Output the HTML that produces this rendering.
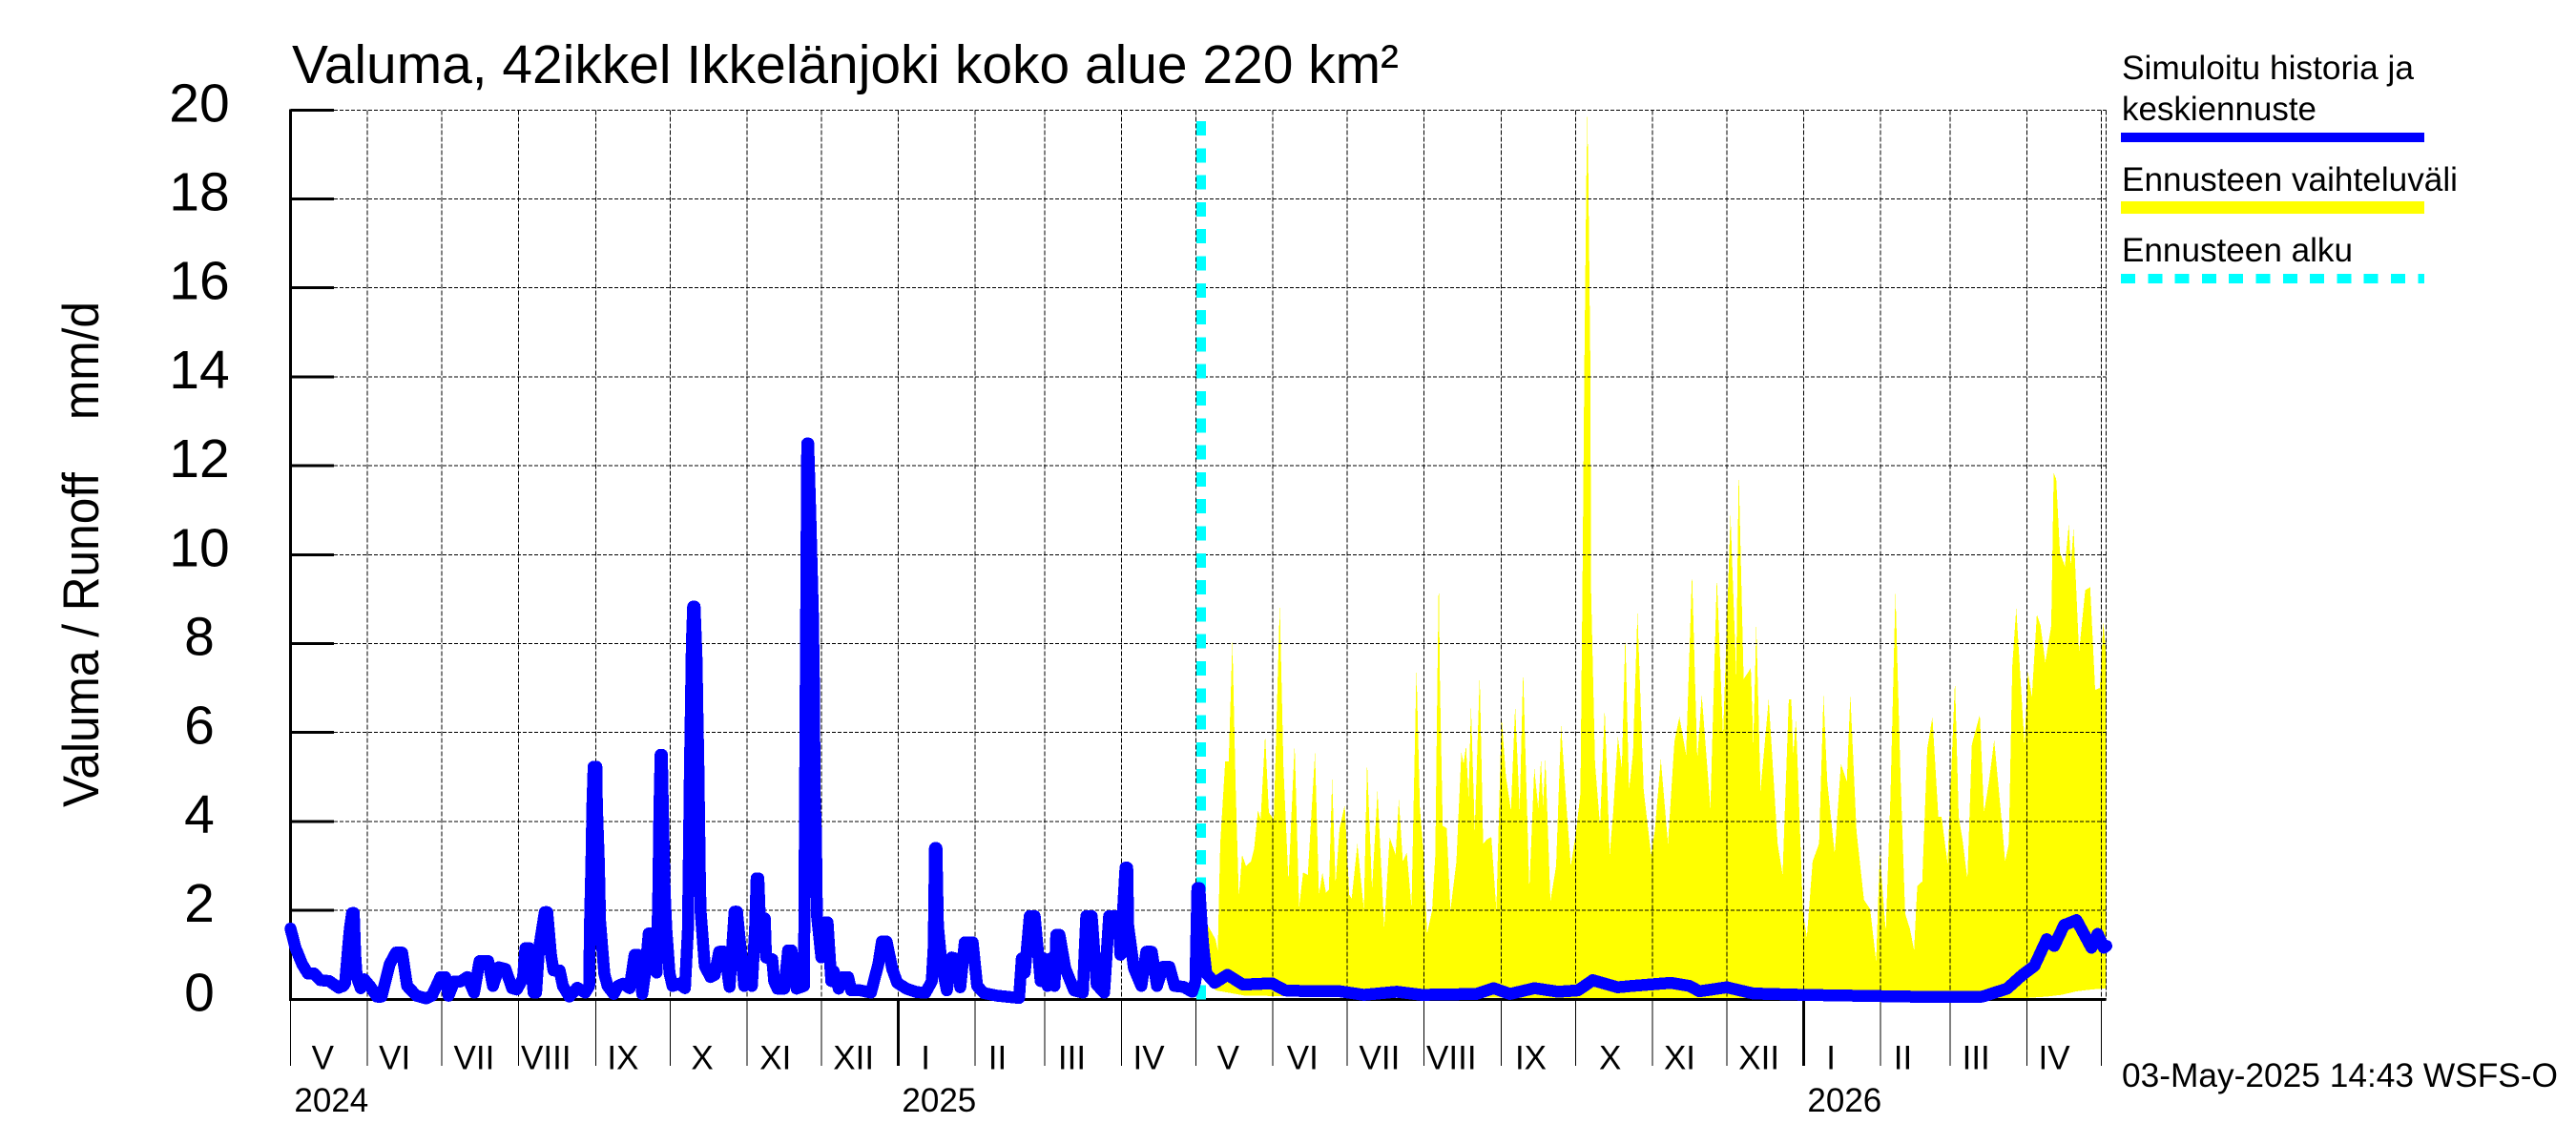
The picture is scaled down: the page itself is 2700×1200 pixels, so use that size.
<!DOCTYPE html>
<html lang="fi">
<head>
<meta charset="utf-8">
<title>Valuma, 42ikkel Ikkelänjoki koko alue 220 km²</title>
<style>
  html, body { margin: 0; padding: 0; background: #fff; }
  svg { display: block; }
  text { font-family: "Liberation Sans", sans-serif; fill: #000; }
</style>
</head>
<body>
<svg id="chart" xmlns="http://www.w3.org/2000/svg" width="2700" height="1200" viewBox="0 0 2700 1200">
  <rect x="0" y="0" width="2700" height="1200" fill="#ffffff"/>
  <text x="306" y="87" font-size="57" textLength="1160" lengthAdjust="spacingAndGlyphs">Valuma, 42ikkel Ikkelänjoki koko alue 220 km²</text>
  <text transform="translate(103 846) rotate(-90)" x="0" y="0" font-size="53" xml:space="preserve" textLength="530" lengthAdjust="spacingAndGlyphs">Valuma / Runoff    mm/d</text>

  <g id="band-layer"></g>
  <g id="grid-layer"></g>
  <g id="axis-layer"></g>
  <g id="start-layer"></g>
  <g id="line-layer"></g>

  <g>
    <text x="2224" y="83" font-size="35" textLength="306" lengthAdjust="spacingAndGlyphs">Simuloitu historia ja</text>
    <text x="2224" y="126" font-size="35" textLength="204" lengthAdjust="spacingAndGlyphs">keskiennuste</text>
    <rect x="2223" y="139" width="318" height="10" fill="#0000ff"/>
    <text x="2224" y="200" font-size="35" textLength="352" lengthAdjust="spacingAndGlyphs">Ennusteen vaihteluväli</text>
    <rect x="2223" y="211" width="318" height="13" fill="#ffff00"/>
    <text x="2224" y="274" font-size="35" textLength="242" lengthAdjust="spacingAndGlyphs">Ennusteen alku</text>
    <line x1="2223" y1="292" x2="2541" y2="292" stroke="#00ffff" stroke-width="10" stroke-dasharray="15 13.3" shape-rendering="crispEdges"/>
  </g>
  <text x="2224" y="1139" font-size="35" textLength="457" lengthAdjust="spacingAndGlyphs">03-May-2025 14:43 WSFS-O</text>
</svg>
<script>
// ---- Axis categories and labels ----
const yTicks = [0, 2, 4, 6, 8, 10, 12, 14, 16, 18, 20];
const monthStartDays = [0, 31, 61, 92, 123, 153, 184, 214, 245, 276, 304, 335, 365, 396, 426, 457, 488, 518, 549, 579, 610, 641, 669, 700, 730];
const yearStartDays = [245, 610];
const monthLabels = ['V', 'VI', 'VII', 'VIII', 'IX', 'X', 'XI', 'XII', 'I', 'II', 'III', 'IV', 'V', 'VI', 'VII', 'VIII', 'IX', 'X', 'XI', 'XII', 'I', 'II', 'III', 'IV'];
const monthLabelDays = [13, 42, 74, 103, 134, 166, 195.5, 227, 256, 285, 315, 346, 378, 408, 439, 468, 500, 532, 560, 592, 621, 650, 679.5, 711];
const yearLabels = ['2024', '2025', '2026'];
const yearLabelDays = [1.5, 246.5, 611.5];
const forecastStartDay = 367;
const frameEndDay = 732;

// ---- Simulated history + mean forecast (days since 1 May 2024, mm/d) ----
const runoffDays = [
  0, 2, 4.7, 7, 9.5, 12, 15.6, 19.4, 21.3, 22,
  23.3, 23.9, 24.8, 25.5, 26.1, 26.7, 28.3, 29.7, 32, 34.8,
  36.7, 40, 42.5, 45, 47, 50.8, 54.7, 57, 60.5, 62.4,
  63.7, 66, 68.5, 71.3, 74, 76.2, 79.7, 81.6, 84, 86.7,
  89.3, 91.2, 93.7, 94.7, 96.3, 98, 99, 100.2, 102.5, 103.5,
  105, 106, 108.5, 109.8, 112.4, 115.6, 118.8, 120.4, 120.7, 121.3,
  121.7, 122.2, 123.3, 123.5, 124.3, 124.8, 126.5, 127.8, 130.3, 132,
  134, 136.7, 138.7, 140, 141.8, 143, 144.4, 146, 147.6, 148.3,
  148.7, 149.2, 149.7, 150, 150.8, 151.5, 152.8, 154, 156.6, 159,
  160.2, 160.6, 161, 161.4, 161.8, 162.3, 162.9, 163.7, 164, 164.4,
  164.7, 165, 165.3, 167, 169.3, 171, 172.8, 175, 177, 179,
  180, 182.9, 185, 186, 187.3, 187.9, 188.6, 189.2, 191.2, 191.7,
  194.2, 195, 196.3, 199, 200.6, 202, 204, 207, 207.2, 207.7,
  208.3, 208.7, 209.6, 210.6, 211, 211.3, 211.8, 212.2, 214, 215.5,
  216.5, 218, 219, 221, 222.7, 224.8, 226, 229.8, 234, 237,
  238.4, 240.3, 242.6, 244.6, 248.3, 252.5, 256, 258.5, 259.3, 259.8,
  260.4, 261, 262.5, 264.6, 266.5, 269.3, 270, 271.8, 275, 276.8,
  279.5, 285, 293.7, 294.8, 296, 298, 300, 302.4, 303.7, 305.2,
  306.6, 308, 308.7, 310, 312.3, 315.9, 319.4, 320.8, 323, 325,
  328, 330, 333.7, 334.6, 336.6, 337.3, 337.7, 340, 343, 345,
  347.2, 349.3, 351.7, 354.3, 356.4, 360, 363.5, 364.8, 365.6, 366.4,
  367.4, 368, 369.2, 372.6, 377.7, 384, 395.6, 401, 411, 423,
  432.7, 446, 456, 478, 485, 491.6, 501.5, 511, 519, 525,
  535, 540.7, 556.4, 564, 568, 579, 589.7, 609.4, 653, 682,
  692, 698, 703, 708, 711, 715, 720, 726, 728.5, 731,
  732
];
const runoffValues = [
  1.59, 1.16, .79, .58, .58, .43, .41, .26, .3, .36,
  1.22, 1.58, 1.94, 1.94, .99, .5, .25, .45, .3, .06,
  .06, .79, 1.05, 1.05, .3, .08, .02, .08, .5, .5,
  .08, .4, .4, .5, .15, .86, .86, .3, .72, .68,
  .25, .22, .47, 1.15, 1.15, .15, .15, 1.15, 1.96, 1.96,
  1, .65, .65, .3, .06, .26, .15, .3, 1.65, 3.07,
  4.37, 5.23, 5.23, 4.37, 3.07, 1.76, .58, .3, .12, .3,
  .35, .25, 1, 1, .12, .6, 1.48, 1.48, .6, 2.47,
  4.2, 5.5, 5.5, 4.6, 2.47, 1.58, .58, .3, .35, .25,
  1.55, 3.22, 5.1, 6.55, 8.03, 8.83, 8.83, 7.64, 6.55, 5.36,
  4.1, 2.87, 2, .75, .5, .55, 1.07, 1.07, .28, 1.97,
  1.97, .3, .5, .3, 1.62, 2.72, 2.72, 1.82, 1.82, .94,
  .9, .4, .24, .24, 1.1, 1.1, .24, .3, 2.3, 7.1,
  12.5, 12.5, 10.8, 8.65, 7.1, 4.6, 3.75, 1.9, .94, 1.73,
  1.73, .41, .63, .24, .5, .5, .2, .2, .15, .8,
  1.3, 1.3, .68, .37, .24, .16, .15, .4, 1.2, 3.4,
  3.4, 1.65, .77, .2, .94, .9, .27, 1.28, 1.28, .3,
  .14, .08, .03, .92, .6, 1.87, 1.87, .41, .92, .3,
  .92, .3, 1.45, 1.45, .7, .2, .15, 1.87, 1.87, .33,
  .15, 1.87, 1.87, 1, 2.96, 2.96, 1.65, .7, .3, 1.07,
  1.07, .3, .73, .73, .3, .28, .17, .4, 2.5, 2.5,
  1.59, 1.16, .58, .37, .55, .33, .36, .2, .18, .18,
  .1, .17, .1, .12, .25, .12, .25, .17, .2, .43,
  .27, .3, .37, .3, .18, .27, .13, .1, .06, .06,
  .24, .54, .75, 1.35, 1.2, 1.67, 1.78, 1.16, 1.47, 1.16,
  1.2
];

// ---- Forecast range: upper edge ----
const upperDays = [
  367, 368.9, 372.9, 373.8, 374.8, 376.8, 378.2, 379.7, 381.1, 382.3,
  383.6, 385.2, 387.2, 388.5, 390, 391.1, 392.9, 394.4, 396.4, 398.8,
  400.3, 402.3, 404.8, 406.6, 408.2, 410.1, 413, 414.6, 416, 417.4,
  418.6, 419.9, 421.3, 422.9, 425, 426.8, 427.8, 430.1, 432.7, 434,
  436, 438.2, 440.9, 443.1, 445.5, 446.8, 448.4, 450, 451.9, 453.9,
  455.3, 456.6, 458.2, 460.2, 461.5, 462.3, 462.9, 463.4, 464.5, 466.1, 467.6, 470,
  472, 472.9, 473.9, 474.9, 475.9, 477.4, 479.4, 480.8, 482.4, 484.1,
  486.1, 488.2, 490, 492, 493.7, 495.5, 496.9, 499.4, 501.4, 503,
  504.1, 504.9, 505.9, 507.9, 510.2, 512.2, 514.1, 516.1, 518.1, 520,
  520.8, 521.6, 522.4, 522.8, 523.2, 524, 524.3, 525.9, 527.9, 529.8, 531.8, 533.2, 535.1,
  536.7, 538.1, 539.6, 541.2, 543, 545.5, 548.5, 550, 552.4, 555.3,
  557.9, 559.9, 562.6, 565, 567.1, 568.9, 572.4, 575, 577.5, 580.5,
  582.8, 583.8, 585.8, 588.7, 589.7, 590.9, 592.6, 595.9, 599.5, 601.5,
  604, 605, 605.8, 606.9, 609.7, 611.3, 613.6, 616.2, 618, 619.5,
  622.5, 625, 627.4, 628.8, 631.3, 634.3, 636.8, 639.2, 640.7, 643.1,
  645, 647, 649, 650.9, 652.9, 654.5, 655.8, 657.8, 659.8, 661.9,
  664.3, 665.6, 668, 671, 672.5, 674.1, 676, 677.8, 681, 682.7,
  684.7, 686.8, 690.2, 691.2, 692.7, 694.1, 695.7, 699, 700.4, 702,
  704, 705.5, 707.4, 709.8, 710.8, 711.8, 713.3, 715.3, 716.9, 717.7,
  718.8, 721, 723.5, 725.5, 727.5, 729.4, 730.8, 732
];
const upperValues = [
  2.4, 1.75, 1.35, 1.1, 3.5, 5.35, 5.35, 8.05, 4.6, 2.3,
  3.25, 3, 3.1, 3.4, 4.25, 4.05, 5.95, 4.2, 4.05, 8.9,
  5.2, 2.65, 5.75, 2.07, 2.85, 2.8, 5.55, 2.35, 2.85, 2.4,
  2.47, 4.95, 2.6, 3.85, 4.37, 2.35, 2.27, 3.5, 2, 5.35,
  2.47, 4.7, 1.6, 3.65, 3.25, 4.5, 3.1, 3.3, 2.07, 7.45,
  4.3, 3.4, 1.48, 2, 3.25, 7, 9.55, 7, 3.9, 3.85, 2, 3.1,
  5.55, 5.3, 5.7, 4.55, 6.6, 3.8, 7.3, 3.5, 3.6, 3.65,
  2, 6.35, 5, 4.25, 6.6, 4.25, 7.4, 2.47, 5.2, 4.3,
  5.4, 4.37, 5.4, 2.2, 3, 6.15, 4.57, 3, 3.7, 4.63,
  9.2, 14.3, 18.5, 19.87, 18.5, 14.3, 9.2, 5.3, 3.9, 6.55, 3.25, 4.2, 5.9,
  5.2, 8.2, 4.7, 5.55, 8.7, 4.7, 3.25, 3.8, 5.4, 3.5,
  5.8, 6.35, 5.5, 9.6, 5.4, 6.85, 4.3, 9.5, 5.9, 10.9,
  7.3, 11.9, 7.2, 7.45, 5.75, 8.45, 4.7, 6.75, 3.5, 2.8,
  6.75, 6.75, 5.5, 6.3, 1.95, 1.4, 3.1, 3.5, 6.85, 4.9,
  3.27, 5.3, 4.9, 6.86, 3.78, 2.24, 2.03, .85, 3.27, 1.52,
  4.6, 9.17, 5.1, 1.93, 1.57, 1.1, 2.55, 2.65, 5.63, 6.35,
  4.1, 4.1, 3.06, 7.17, 4.1, 3.57, 2.7, 5.73, 6.4, 4.2,
  4.9, 5.83, 3.78, 3.1, 3.5, 7.5, 8.8, 5.73, 7.37, 6.8,
  8.66, 8.4, 7.58, 8.4, 11.84, 11.7, 10.05, 9.74, 10.7, 9.74,
  10.6, 7.8, 9.2, 9.27, 6.96, 7, 8.5, 7.7
];

// ---- Forecast range: lower edge ----
const lowerDays = [367, 369, 373, 385, 500, 700, 708, 714, 720, 726, 732];
const lowerValues = [2.2, .7, .2, .08, .03, .03, .06, .1, .18, .22, .25];

// ---- Axis functions ----
function xScale(day) { return 304.5 + day * 2.6; }
function yScale(value) { return 1047.3 - value * 46.6; }

const SVG_NS = 'http://www.w3.org/2000/svg';
const bandLayer = document.getElementById('band-layer');
const gridLayer = document.getElementById('grid-layer');
const axisLayer = document.getElementById('axis-layer');
const startLayer = document.getElementById('start-layer');
const lineLayer = document.getElementById('line-layer');

function makeLine(x1, y1, x2, y2, width, dash) {
  const el = document.createElementNS(SVG_NS, 'line');
  el.setAttribute('x1', x1);
  el.setAttribute('y1', y1);
  el.setAttribute('x2', x2);
  el.setAttribute('y2', y2);
  el.setAttribute('stroke', '#000000');
  el.setAttribute('stroke-width', width);
  el.setAttribute('shape-rendering', 'crispEdges');
  if (dash) el.setAttribute('stroke-dasharray', dash);
  return el;
}
function makeText(x, y, size, anchor, content) {
  const el = document.createElementNS(SVG_NS, 'text');
  el.setAttribute('x', x);
  el.setAttribute('y', y);
  el.setAttribute('font-size', size);
  el.setAttribute('text-anchor', anchor);
  el.textContent = content;
  return el;
}

// Forecast range polygon
const bandPoints = [];
upperDays.forEach(function (d, i) { bandPoints.push(xScale(d) + ',' + yScale(upperValues[i])); });
for (let i = lowerDays.length - 1; i >= 0; i--) { bandPoints.push(xScale(lowerDays[i]) + ',' + yScale(lowerValues[i])); }
const band = document.createElementNS(SVG_NS, 'polygon');


band.setAttribute('points', bandPoints.join(' '));
band.setAttribute('fill', '#ffff00');
band.setAttribute('shape-rendering', 'crispEdges');
bandLayer.appendChild(band);

// Horizontal grid lines, y ticks and y labels
yTicks.forEach(function (v) {
  const y = yScale(v);
  if (v > 0) {
    const g = makeLine(350, y, xScale(frameEndDay), y, 1, '4 2');
    
    
    gridLayer.appendChild(g);
  }
  const t = makeLine(304.5, y, 350, y, 3);
  
  
  axisLayer.appendChild(t);
  const lab = makeText(209, y + 12, 57, 'middle', String(v));
  
  
  axisLayer.appendChild(lab);
});

// Vertical grid lines and month ticks
monthStartDays.forEach(function (d) {
  const x = xScale(d);
  if (d > 0) {
    const g = makeLine(x, yScale(20), x, yScale(0), 1, '5 2');
    
    
    gridLayer.appendChild(g);
  }
  const isYear = yearStartDays.indexOf(d) >= 0;
  const t = makeLine(x, yScale(0), x, 1117, isYear ? 3 : 1);
  
  
  axisLayer.appendChild(t);
});

// Right frame edge
const frameEdge = makeLine(xScale(frameEndDay), yScale(20), xScale(frameEndDay), yScale(0), 1, '5 2');


gridLayer.appendChild(frameEdge);

// Axis lines
const yAxisLine = makeLine(304.5, yScale(20) - 1, 304.5, yScale(0) + 1, 3);


axisLayer.appendChild(yAxisLine);
const xAxisLine = makeLine(303, yScale(0), xScale(frameEndDay), yScale(0), 3);


axisLayer.appendChild(xAxisLine);

// Month and year labels
monthLabels.forEach(function (label, i) {
  const el = makeText(xScale(monthLabelDays[i]), 1120.5, 35, 'middle', label);
  
  
  axisLayer.appendChild(el);
});
yearLabels.forEach(function (label, i) {
  const el = makeText(xScale(yearLabelDays[i]), 1165, 35, 'start', label);
  
  
  axisLayer.appendChild(el);
});

// Forecast start marker
const startX = xScale(forecastStartDay) + 0.3;
const startLine = document.createElementNS(SVG_NS, 'line');


startLine.setAttribute('x1', startX);
startLine.setAttribute('x2', startX);
startLine.setAttribute('y1', 127);
startLine.setAttribute('y2', yScale(0));
startLine.setAttribute('stroke', '#00ffff');
startLine.setAttribute('stroke-width', '10');
startLine.setAttribute('stroke-dasharray', '15 13.3');
startLine.setAttribute('shape-rendering', 'crispEdges');
startLayer.appendChild(startLine);

// Simulated history and mean forecast
const runoffPoints = runoffDays.map(function (d, i) { return xScale(d) + ',' + yScale(runoffValues[i]); });
const runoffLine = document.createElementNS(SVG_NS, 'polyline');


runoffLine.setAttribute('points', runoffPoints.join(' '));
runoffLine.setAttribute('fill', 'none');
runoffLine.setAttribute('stroke', '#0000ff');
runoffLine.setAttribute('stroke-width', '12.5');
runoffLine.setAttribute('stroke-linejoin', 'round');
runoffLine.setAttribute('stroke-linecap', 'round');
runoffLine.setAttribute('shape-rendering', 'crispEdges');
lineLayer.appendChild(runoffLine);
</script>
</body>
</html>
